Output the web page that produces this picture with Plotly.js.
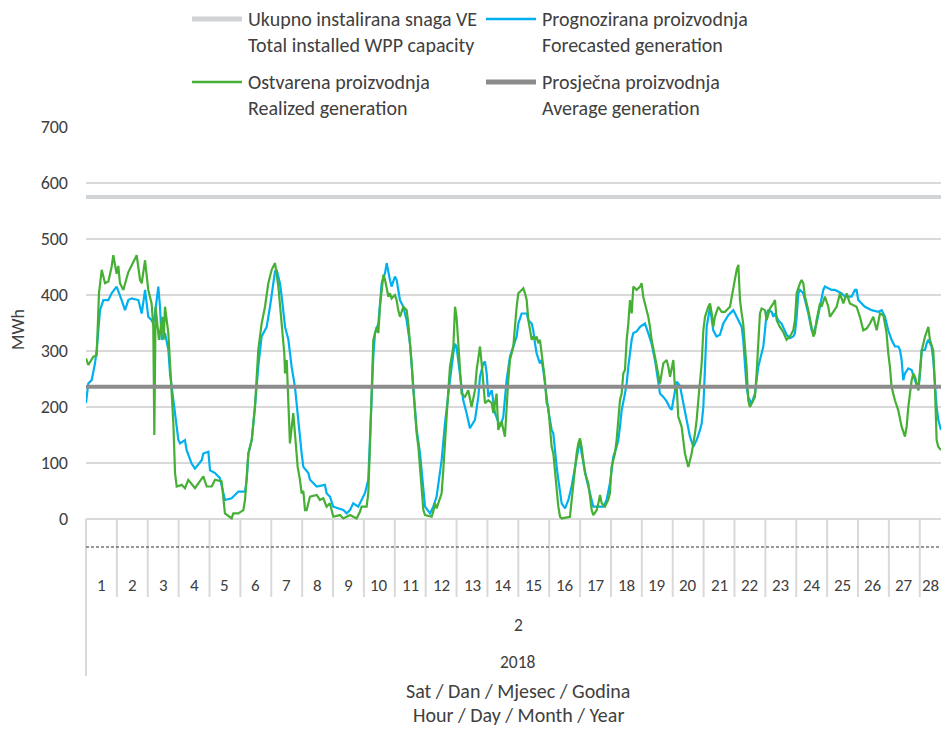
<!DOCTYPE html>
<html>
<head>
<meta charset="utf-8">
<script src="https://cdn.plot.ly/plotly-3.0.1.min.js"></script>
<style>html,body{margin:0;padding:0;background:#fff;}#chart{width:941px;height:731px;}</style>
</head>
<body>
<div id="chart"></div>
<script>
// ---------------- DATA ----------------
const dayLabels = ["1","2","3","4","5","6","7","8","9","10","11","12","13","14","15","16","17","18","19","20","21","22","23","24","25","26","27","28"];
const monthLabel = "2";
const yearLabel = "2018";
const hoursPerDay = 24;

const installedCapacity = 575;   // MWh
const averageGeneration = 236;   // MWh

const forecastHours = [0,1.8,4.4,7,8.3,9.6,10.9,13.5,17.4,19.9,23.8,27.7,30.3,32.9,35.5,40.7,43.3,45.9,48.4,51,52.3,53.6,56.2,57.5,58.8,61.4,64,65.3,67.9,70.5,71.8,73.1,76.9,78.2,82.1,84.7,89.9,91.2,95.1,96.4,100.3,104.1,105.4,108,113.2,118.4,123.6,124.9,126.2,128.8,131.3,133.9,136.5,139.1,140.4,143,144.3,146.9,148.2,150.8,152.1,154.7,157.3,159.8,162.4,165,167.6,168.9,172.8,174.1,179.3,185.7,187,189.6,192.2,200,202.6,205.2,207.7,211.6,212.9,216.8,219.4,220.7,222,223.3,224.6,227.2,229.8,232.4,233.7,235,236.2,237.5,240.1,241.4,244,246.6,249.2,251.8,253.1,255.7,257,259.6,260.9,262.2,263.5,267.4,269.9,272.5,273.8,276.4,279,280.3,282.9,285.5,286.8,288,290.7,293.2,295.8,298.4,302.3,304.9,306.2,308.8,310.1,311.4,312.7,315.3,317.9,321.8,324.3,326.9,329.5,332.1,334.7,336,338.6,342.5,343.8,346.4,347.6,349,350.2,352.8,354.1,355.4,356.7,358,359.3,360.6,361.9,363.2,364.5,365.8,367.1,368.4,369.7,372.3,374.9,377.4,380,382.6,383.9,385.2,386.5,389.1,391.7,394.3,399.5,402,404.6,407.2,408.5,409.8,412.4,413.7,415,416.3,418.9,420.2,421.5,422.8,424.1,425.4,428,430.6,434.4,437,439.6,442.2,444.8,446.1,448.7,451.3,453.9,455.2,456.5,459.1,461.6,464.2,466.8,469.4,472,474.6,477.2,478.5,479.8,481.1,482.4,485,487.5,490.1,492.7,495.3,497.9,499.2,503.1,507,509.6,510.8,512.1,513.4,514.7,517.3,519.9,521.2,522.5,525.1,526.4,527.7,529,530.3,532.9,534.2,535.5,538,540.6,543.2,544.5,547.1,549.7,551,552.3,553.6,554.9,557.5,558.8,561.4,564,565.3,567.8,570.4,571.7,573,574.3,579.5,582.1,587.3,589.9,595,597.6,598.9,600.2,602.8,605.4,610.6,615.8,618.4,621,622.2,623.5,626.1,628.7,631.3,632.6,633.9,635.2,636.5,639.1,641.7,644.3,646.9,648.2,649.5,652.1,653.3,654.7,657.2,658.5,659.8,661.1,662.4,664.5];
const forecastMWh = [207,242,248,278,302,343,373,391,391,403,415,391,373,391,394,391,367,409,361,355,349,367,415,379,320,332,302,260,212,171,141,135,141,123,99,90,105,117,120,87,82,73,58,34,37,49,49,70,117,141,200,272,326,337,343,379,403,442,445,420,397,343,320,272,236,171,117,93,82,70,58,61,46,40,22,16,10,16,28,22,28,46,70,141,230,290,332,349,421,439,457,439,427,415,433,427,391,379,355,313,272,189,159,117,82,46,22,10,22,40,64,105,171,200,248,296,313,307,260,212,189,162,177,218,254,278,281,260,218,230,189,165,182,248,290,308,326,349,367,367,355,349,337,313,296,278,284,266,242,212,194,177,159,153,117,93,70,46,28,19,34,58,93,129,141,117,99,70,46,22,22,22,34,64,87,111,129,141,165,194,224,242,272,296,320,332,335,343,349,332,313,284,248,224,218,210,198,195,212,245,238,207,171,147,129,141,159,171,200,272,343,379,337,326,329,349,360,364,373,355,343,320,272,236,218,206,224,248,272,296,308,337,367,373,370,361,367,355,349,336,329,323,326,332,361,403,409,403,391,367,337,332,349,379,391,409,415,409,409,403,397,397,409,409,391,385,379,373,370,373,361,349,337,320,308,308,302,284,248,260,269,266,248,230,260,301,302,313,320,308,284,242,200,177,159];

const realizedHours = [0,1.8,5.7,8.3,10.1,12.2,14.8,17.4,19.9,21.2,23.8,25.1,26.4,29,32.9,35.5,39.4,42,43.3,45.9,48.4,51,52.3,53.1,54.1,56.7,59.3,60.4,61.4,64,65.3,66.6,67.9,69.2,70.5,74.4,76.9,79.5,84.7,91.2,93.8,97.7,100.3,105.4,106.7,108,113.2,114.5,118.4,122.3,123.6,124.9,126.2,128.8,131.3,133.9,136.5,139.1,141.7,144.3,146.9,149.5,152.1,154.1,154.7,156,157.8,158.5,161.1,164.5,166.3,167.6,168.9,170.2,171.5,174.1,179.3,181.8,184.4,187,189.6,192.2,197.4,200,205.2,210.3,212.9,214.2,218.1,219.4,220.7,222,223.3,225.9,227.2,228.5,229.8,231.1,232.4,235,236.2,237.5,240.1,241.4,242.7,244,246.6,249.2,250.5,251.8,253.1,254.4,255.7,257,258.3,259.6,260.9,262.2,263.5,268.6,269.9,271.2,272.5,273.8,276.4,277.7,279,280.3,281.6,282.9,285.5,286.8,288,289.4,290.7,291.9,294.5,297.1,299.7,302.3,303.6,306.2,307.5,308.8,310.1,312.7,315.3,316.6,319.1,320.4,323,325.6,326.9,328.2,329.5,332.1,334.7,336,338.6,339.9,341.2,342.5,343.8,346.4,347.6,349,350.2,351.5,352.8,354.1,355.4,356.7,358,359.3,360.6,361.9,363.2,364.5,365.8,367.1,368.4,369.7,376.1,377.4,378.7,380,381.3,382.6,383.9,385.2,386.5,387.8,390.4,391.7,393,394.3,396.9,398.2,399.5,400.8,403.3,405.9,407.2,408.5,411.1,412.4,413.7,415,416.3,417.6,418.9,420.2,421.5,422.8,424.1,425.4,428,430.6,431.8,433.1,434.4,437,438.3,439.6,442.2,444.8,446.1,447.4,448.7,451.3,452.6,453.9,455.2,456.5,457.8,459.1,460.3,462.9,464.2,465.5,468.1,470.7,473.3,474.6,475.9,477.2,478.5,479.8,481.1,483.7,485,486.3,487.5,488.8,491.4,494,496.6,500.5,501.8,503.1,504.4,505.7,507,508.3,509.6,510.8,512.1,513.4,514.7,516,517.3,519.9,521.2,522.5,523.8,525.1,527.7,529,531.6,534.2,535.5,536.8,539.3,541.9,544.5,547.1,549.7,551,552.3,554.9,556.2,557.5,558.8,561.4,564,565.3,566.5,567.8,570.4,571.7,574.3,576.9,578.2,582.1,583.4,586,588.6,591.2,593.7,598.9,601.5,604.1,606.7,609.3,611.9,614.5,617.1,619.7,622.2,623.5,624.8,626.1,628.7,631.3,633.9,636.5,637.8,639.1,641.7,643,644.3,646.9,648.2,649.5,652.1,654.7,655.9,658.5,659.8,661.1,662.4,664.5];
const realizedMWh = [287,275,290,292,404,445,421,424,450,471,438,452,421,409,441,454,471,427,421,462,409,385,343,150,379,320,361,320,379,332,272,230,171,82,58,61,55,70,55,76,58,58,70,67,40,10,1,10,10,16,34,70,117,141,200,302,349,379,421,445,457,415,349,296,260,284,177,135,189,93,70,46,50,16,16,40,43,34,37,22,28,4,7,1,7,1,13,22,22,46,129,248,320,343,332,379,415,436,427,397,403,394,400,391,373,361,379,373,349,320,278,230,189,153,129,93,46,16,7,4,13,28,19,28,46,88,129,183,230,272,308,379,361,308,260,224,218,230,200,230,266,308,278,236,207,212,207,189,224,159,174,147,212,248,284,308,379,403,409,412,403,391,355,320,326,320,326,314,320,290,272,248,207,200,171,129,117,82,46,22,4,1,4,34,70,93,117,135,144,129,99,82,64,40,16,7,16,28,43,28,22,34,46,93,117,141,177,212,224,260,266,320,349,391,367,415,409,415,421,397,385,361,343,320,290,260,242,260,278,284,272,254,272,284,230,236,183,165,141,117,93,117,153,177,212,242,278,337,361,379,385,367,343,361,379,370,370,379,397,409,427,445,454,391,367,349,308,272,212,200,206,218,260,320,367,376,373,355,376,385,391,355,343,334,320,326,337,355,403,421,427,421,397,373,337,326,332,355,385,379,397,379,361,373,379,403,385,403,385,379,361,337,340,349,361,337,367,364,332,296,272,236,212,194,165,147,165,200,248,260,254,230,272,301,326,343,320,301,236,141,129,123];

// ---------------- LAYOUT HELPERS ----------------
const FIG_W = 941, FIG_H = 731;
const PL = 86, PR = 941, PT = 127, PB = 521;
const fx = x => (x - PL) / (PR - PL);   // pixel -> paper x
const fy = y => (PB - y) / (PB - PT);   // pixel -> paper y
const FONT = 'Carlito, Calibri, Lato, "Liberation Sans", sans-serif';
const TXT = '#404040';
const GRID = '#d9d9d9';

const cCap = '#d0d4d7', cFc = '#00b0f0', cRe = '#46b035', cAvg = '#8c8c8c';
const nDays = dayLabels.length;
const fullHours = nDays * hoursPerDay;
const xEnd = (PR - PL) * hoursPerDay / 30.88;

const traces = [
  {name: 'Ukupno instalirana snaga VE / Total installed WPP capacity', x: [0, fullHours], y: [installedCapacity, installedCapacity],
   mode: 'lines', line: {color: cCap, width: 4}, showlegend: false, hoverinfo: 'skip'},
  {name: 'Prognozirana proizvodnja / Forecasted generation', x: forecastHours, y: forecastMWh,
   mode: 'lines', line: {color: cFc, width: 2.2}, showlegend: false},
  {name: 'Ostvarena proizvodnja / Realized generation', x: realizedHours, y: realizedMWh,
   mode: 'lines', line: {color: cRe, width: 2.2}, showlegend: false},
  {name: 'Prosječna proizvodnja / Average generation', x: [0, fullHours], y: [averageGeneration, averageGeneration],
   mode: 'lines', line: {color: cAvg, width: 4}, showlegend: false, hoverinfo: 'skip'}
];

const shapes = [];
const annotations = [];

// category axis separators
for (let d = 1; d < nDays; d++) {
  shapes.push({type: 'line', xref: 'x', yref: 'paper', x0: d * hoursPerDay, x1: d * hoursPerDay,
    y0: fy(519), y1: fy(597), line: {color: GRID, width: 2}, layer: 'above'});
}
shapes.push({type: 'line', xref: 'paper', yref: 'paper', x0: 0, x1: 0, y0: fy(519), y1: fy(676),
  line: {color: GRID, width: 2}});
shapes.push({type: 'line', xref: 'paper', yref: 'paper', x0: 0, x1: 1, y0: fy(547), y1: fy(547),
  line: {color: '#333333', width: 1, dash: '3px,2px'}});

dayLabels.forEach((lab, i) => {
  const last = i === nDays - 1;
  annotations.push({xref: 'x', yref: 'paper', x: last ? xEnd : (i + 0.5) * hoursPerDay, y: fy(585), text: lab,
    showarrow: false, xanchor: last ? 'right' : 'center', yanchor: 'middle',
    font: {family: FONT, size: 17, color: TXT}});
});
const midX = fullHours / 2;
annotations.push({xref: 'x', yref: 'paper', x: midX, y: fy(625), text: monthLabel, showarrow: false,
  xanchor: 'center', yanchor: 'middle', font: {family: FONT, size: 17.5, color: TXT}});
annotations.push({xref: 'x', yref: 'paper', x: midX, y: fy(662), text: yearLabel, showarrow: false,
  xanchor: 'center', yanchor: 'middle', font: {family: FONT, size: 17.5, color: TXT}});
annotations.push({xref: 'x', yref: 'paper', x: midX, y: fy(691), text: 'Sat / Dan / Mjesec / Godina', showarrow: false,
  xanchor: 'center', yanchor: 'middle', font: {family: FONT, size: 20, color: TXT}});
annotations.push({xref: 'x', yref: 'paper', x: midX, y: fy(715), text: 'Hour / Day / Month / Year', showarrow: false,
  xanchor: 'center', yanchor: 'middle', font: {family: FONT, size: 20, color: TXT}});
annotations.push({xref: 'paper', yref: 'paper', x: fx(18), y: fy(330), text: 'MWh', textangle: -90, showarrow: false,
  xanchor: 'center', yanchor: 'middle', font: {family: FONT, size: 18, color: TXT}});

// legend (drawn manually: line sample + two text lines)
const legendItems = [
  {color: cCap, width: 5, x: 192, y: 19, l1: 'Ukupno instalirana snaga VE', l2: 'Total installed WPP capacity'},
  {color: cFc, width: 2.5, x: 486, y: 19, l1: 'Prognozirana proizvodnja', l2: 'Forecasted generation'},
  {color: cRe, width: 2.5, x: 192, y: 82, l1: 'Ostvarena proizvodnja', l2: 'Realized generation'},
  {color: cAvg, width: 5, x: 486, y: 82, l1: 'Prosječna proizvodnja', l2: 'Average generation'}
];
legendItems.forEach(it => {
  shapes.push({type: 'line', xref: 'paper', yref: 'paper', x0: fx(it.x), x1: fx(it.x + 50), y0: fy(it.y), y1: fy(it.y),
    line: {color: it.color, width: it.width}});
  annotations.push({xref: 'paper', yref: 'paper', x: fx(it.x + 54), y: fy(it.y), text: it.l1, showarrow: false,
    xanchor: 'left', yanchor: 'middle', font: {family: FONT, size: 20, color: TXT}});
  annotations.push({xref: 'paper', yref: 'paper', x: fx(it.x + 54), y: fy(it.y + 26), text: it.l2, showarrow: false,
    xanchor: 'left', yanchor: 'middle', font: {family: FONT, size: 20, color: TXT}});
});

const yTicks = [0, 100, 200, 300, 400, 500, 600, 700];

const layout = {
  width: FIG_W, height: FIG_H,
  margin: {l: PL, r: FIG_W - PR, t: PT, b: FIG_H - PB, pad: 0},
  paper_bgcolor: '#ffffff', plot_bgcolor: '#ffffff',
  showlegend: false,
  font: {family: FONT, size: 16, color: TXT},
  xaxis: {range: [0, xEnd], showgrid: false, zeroline: false, showticklabels: false, ticks: '', showline: false, fixedrange: true},
  yaxis: {range: [-2 / 0.56, 700], tickvals: yTicks, ticktext: yTicks.map(String), showgrid: true, gridcolor: GRID, gridwidth: 1.5,
    zeroline: true, zerolinecolor: GRID, zerolinewidth: 2, ticks: '', ticklabelstandoff: 17, showline: false,
    tickfont: {family: FONT, size: 18, color: TXT}, fixedrange: true},
  shapes: shapes,
  annotations: annotations
};

Plotly.newPlot('chart', traces, layout, {displayModeBar: false, staticPlot: true});
</script>
</body>
</html>
